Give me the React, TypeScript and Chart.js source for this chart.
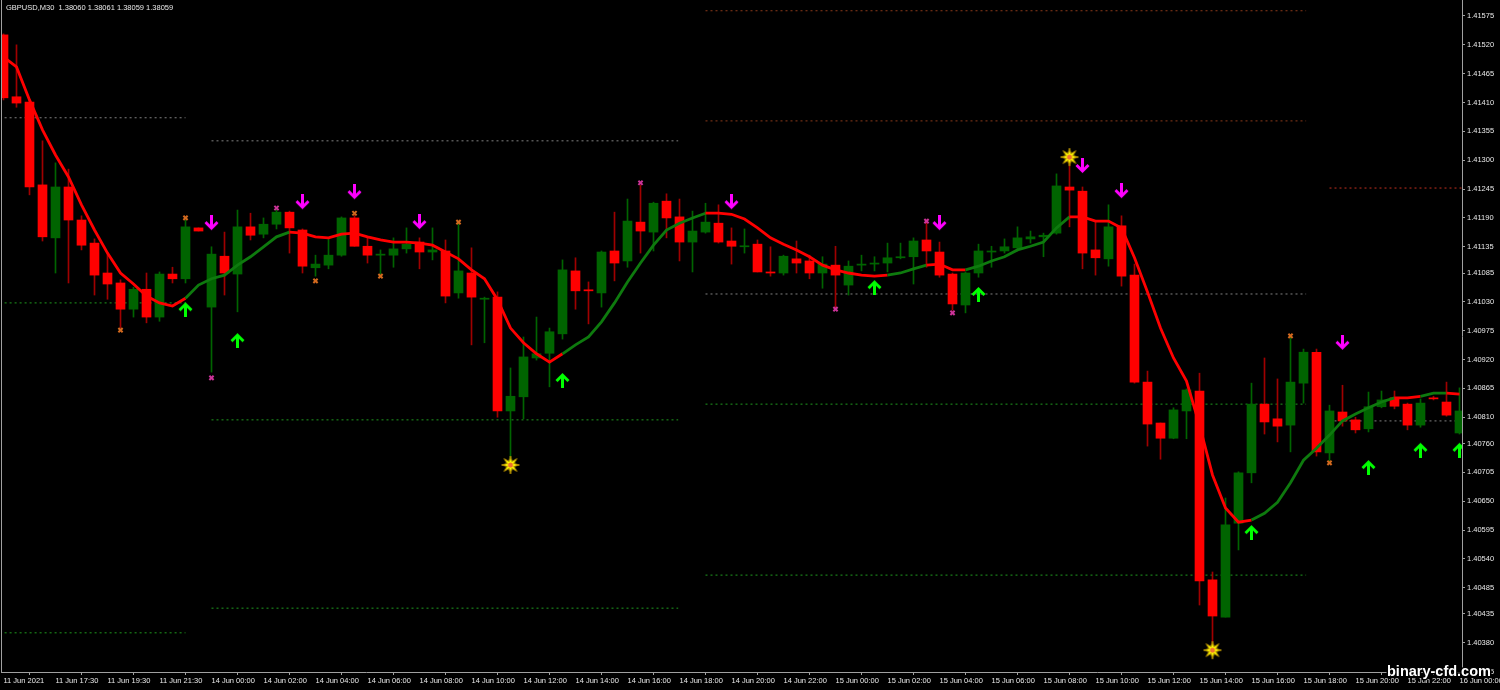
import React, { useEffect, useRef } from "react";
import { Chart, registerables } from "chart.js";

Chart.register(...registerables);

// ---- Data (GBPUSD M30) ----
const openPrices = [
  1.41539, 1.41421, 1.41411, 1.41253, 1.41152, 1.41249, 1.41186, 1.41142, 1.41085, 1.41066,
  1.41016, 1.41054, 1.41001, 1.41083, 1.41074, 1.41171, 1.41020, 1.41117, 1.41083, 1.41173,
  1.41159, 1.41178, 1.41201, 1.41167, 1.41095, 1.41100, 1.41119, 1.41190, 1.41136, 1.41119,
  1.41119, 1.41131, 1.41144, 1.41125, 1.41127, 1.41047, 1.41085, 1.41035, 1.41039, 1.40822,
  1.40849, 1.40923, 1.40932, 1.40969, 1.41089, 1.41053, 1.41047, 1.41127, 1.41108, 1.41182,
  1.41163, 1.41222, 1.41192, 1.41144, 1.41163, 1.41180, 1.41146, 1.41135, 1.41140, 1.41087,
  1.41085, 1.41112, 1.41108, 1.41085, 1.41100, 1.41062, 1.41100, 1.41102, 1.41104, 1.41114,
  1.41116, 1.41148, 1.41125, 1.41083, 1.41024, 1.41085, 1.41125, 1.41127, 1.41133, 1.41150,
  1.41154, 1.41161, 1.41249, 1.41241, 1.41129, 1.41112, 1.41175, 1.41081, 1.40877, 1.40799,
  1.40770, 1.40822, 1.40860, 1.40500, 1.40429, 1.40608, 1.40704, 1.40835, 1.40807, 1.40795,
  1.40875, 1.40934, 1.40742, 1.40820, 1.40805, 1.40788, 1.40830, 1.40847, 1.40835, 1.40795,
  1.40847, 1.40839, 1.40780,
];
const highPrices = [
  1.41541, 1.41520, 1.41413, 1.41337, 1.41295, 1.41283, 1.41194, 1.41150, 1.41123, 1.41072,
  1.41058, 1.41085, 1.41087, 1.41096, 1.41186, 1.41171, 1.41135, 1.41163, 1.41205, 1.41199,
  1.41190, 1.41209, 1.41203, 1.41169, 1.41119, 1.41150, 1.41192, 1.41196, 1.41152, 1.41129,
  1.41152, 1.41171, 1.41152, 1.41171, 1.41148, 1.41182, 1.41133, 1.41039, 1.41049, 1.40904,
  1.40963, 1.41001, 1.40980, 1.41110, 1.41114, 1.41068, 1.41127, 1.41201, 1.41226, 1.41253,
  1.41220, 1.41236, 1.41226, 1.41203, 1.41218, 1.41215, 1.41171, 1.41169, 1.41148, 1.41135,
  1.41119, 1.41146, 1.41119, 1.41116, 1.41136, 1.41108, 1.41119, 1.41116, 1.41142, 1.41142,
  1.41152, 1.41186, 1.41144, 1.41085, 1.41087, 1.41140, 1.41136, 1.41150, 1.41173, 1.41165,
  1.41161, 1.41274, 1.41306, 1.41249, 1.41182, 1.41215, 1.41194, 1.41102, 1.40898, 1.40799,
  1.40828, 1.40864, 1.40894, 1.40515, 1.40656, 1.40706, 1.40875, 1.40923, 1.40883, 1.40965,
  1.40940, 1.40940, 1.40833, 1.40871, 1.40810, 1.40858, 1.40860, 1.40860, 1.40837, 1.40845,
  1.40850, 1.40877, 1.40866,
];
const lowPrices = [
  1.41415, 1.41401, 1.41234, 1.41146, 1.41085, 1.41066, 1.41129, 1.41043, 1.41035, 1.40980,
  1.41001, 1.40990, 1.40993, 1.41066, 1.41066, 1.41165, 1.40896, 1.41043, 1.41011, 1.41148,
  1.41152, 1.41169, 1.41123, 1.41085, 1.41079, 1.41093, 1.41117, 1.41136, 1.41104, 1.41083,
  1.41096, 1.41123, 1.41093, 1.41110, 1.41028, 1.41037, 1.40948, 1.40952, 1.40810, 1.40725,
  1.40807, 1.40919, 1.40868, 1.40959, 1.41016, 1.40988, 1.41020, 1.41070, 1.41096, 1.41123,
  1.41127, 1.41152, 1.41108, 1.41087, 1.41161, 1.41142, 1.41102, 1.41123, 1.41087, 1.41079,
  1.41081, 1.41085, 1.41074, 1.41056, 1.41018, 1.41043, 1.41089, 1.41089, 1.41087, 1.41112,
  1.41064, 1.41096, 1.41077, 1.41014, 1.41009, 1.41077, 1.41096, 1.41123, 1.41127, 1.41142,
  1.41116, 1.41159, 1.41173, 1.41093, 1.41081, 1.41098, 1.41060, 1.40875, 1.40755, 1.40730,
  1.40769, 1.40769, 1.40452, 1.40376, 1.40429, 1.40557, 1.40685, 1.40778, 1.40763, 1.40744,
  1.40837, 1.40736, 1.40727, 1.40793, 1.40780, 1.40782, 1.40828, 1.40826, 1.40786, 1.40791,
  1.40843, 1.40812, 1.40778,
];
const closePrices = [
  1.41419, 1.41409, 1.41249, 1.41154, 1.41249, 1.41186, 1.41138, 1.41081, 1.41064, 1.41016,
  1.41054, 1.41001, 1.41083, 1.41074, 1.41173, 1.41165, 1.41121, 1.41085, 1.41173, 1.41157,
  1.41178, 1.41201, 1.41171, 1.41098, 1.41102, 1.41119, 1.41190, 1.41136, 1.41119, 1.41121,
  1.41131, 1.41140, 1.41125, 1.41129, 1.41041, 1.41089, 1.41039, 1.41037, 1.40822, 1.40850,
  1.40925, 1.40931, 1.40973, 1.41091, 1.41051, 1.41051, 1.41125, 1.41104, 1.41184, 1.41165,
  1.41218, 1.41190, 1.41144, 1.41165, 1.41182, 1.41144, 1.41136, 1.41136, 1.41087, 1.41085,
  1.41117, 1.41104, 1.41085, 1.41102, 1.41081, 1.41098, 1.41102, 1.41104, 1.41114, 1.41116,
  1.41146, 1.41127, 1.41081, 1.41026, 1.41085, 1.41127, 1.41127, 1.41135, 1.41152, 1.41154,
  1.41157, 1.41251, 1.41243, 1.41123, 1.41114, 1.41173, 1.41079, 1.40877, 1.40797, 1.40770,
  1.40824, 1.40862, 1.40498, 1.40431, 1.40605, 1.40704, 1.40835, 1.40801, 1.40793, 1.40877,
  1.40934, 1.40744, 1.40822, 1.40803, 1.40786, 1.40830, 1.40843, 1.40831, 1.40795, 1.40837,
  1.40845, 1.40814, 1.40822,
];
const maValues = [
  1.41497, 1.41478, 1.41415, 1.41358, 1.41310, 1.41268, 1.41215, 1.41167, 1.41123, 1.41085,
  1.41064, 1.41041, 1.41028, 1.41022, 1.41037, 1.41062, 1.41074, 1.41081, 1.41100, 1.41116,
  1.41135, 1.41154, 1.41163, 1.41161, 1.41154, 1.41152, 1.41159, 1.41161, 1.41154, 1.41148,
  1.41144, 1.41144, 1.41142, 1.41138, 1.41125, 1.41112, 1.41091, 1.41074, 1.41034, 1.40980,
  1.40952, 1.40931, 1.40915, 1.40931, 1.40948, 1.40963, 1.40992, 1.41028, 1.41068, 1.41104,
  1.41138, 1.41167, 1.41180, 1.41190, 1.41199, 1.41199, 1.41197, 1.41188, 1.41171, 1.41152,
  1.41140, 1.41129, 1.41116, 1.41100, 1.41091, 1.41085, 1.41081, 1.41079, 1.41081, 1.41085,
  1.41093, 1.41100, 1.41102, 1.41091, 1.41091, 1.41098, 1.41108, 1.41116, 1.41129, 1.41136,
  1.41144, 1.41171, 1.41192, 1.41192, 1.41184, 1.41184, 1.41171, 1.41114, 1.41049, 1.40980,
  1.40923, 1.40879, 1.40795, 1.40700, 1.40637, 1.40610, 1.40614, 1.40627, 1.40648, 1.40685,
  1.40728, 1.40751, 1.40776, 1.40803, 1.40816, 1.40828, 1.40839, 1.40847, 1.40847, 1.40850,
  1.40856, 1.40856, 1.40854,
];
// bar ranges where the trend line is drawn red (down trend)
const maRedRanges = [[0, 14], [22, 43], [54, 68], [71, 74], [82, 96], [107, 109], [111, 112]];

const timeLabels = [
  "11 Jun 2021", "11 Jun 17:30", "11 Jun 19:30", "11 Jun 21:30",
  "14 Jun 00:00", "14 Jun 02:00", "14 Jun 04:00", "14 Jun 06:00", "14 Jun 08:00", "14 Jun 10:00",
  "14 Jun 12:00", "14 Jun 14:00", "14 Jun 16:00", "14 Jun 18:00", "14 Jun 20:00", "14 Jun 22:00",
  "15 Jun 00:00", "15 Jun 02:00", "15 Jun 04:00", "15 Jun 06:00", "15 Jun 08:00", "15 Jun 10:00",
  "15 Jun 12:00", "15 Jun 14:00", "15 Jun 16:00", "15 Jun 18:00", "15 Jun 20:00", "15 Jun 22:00",
  "16 Jun 00:00",
];
const timeLabelBars = [0, 4, 8, 12, 16, 20, 24, 28, 32, 36, 40, 44, 48, 52, 56, 60, 64, 68, 72, 76, 80, 84, 88, 92, 96, 100, 104, 108, 112];

const priceTicks = [
  1.41575, 1.4152, 1.41465, 1.4141, 1.41355, 1.413, 1.41245, 1.4119, 1.41135, 1.41085, 1.4103, 1.40975,
  1.4092, 1.40865, 1.4081, 1.4076, 1.40705, 1.4065, 1.40595, 1.4054, 1.40485, 1.40435, 1.4038, 1.40325,
];

const upArrowBars = [14, 18, 43, 67, 75, 96, 105, 109, 112];
const upArrowPrices = [1.41016, 1.40957, 1.40881, 1.41058, 1.41045, 1.40591, 1.40715, 1.40748, 1.40748];
const downArrowBars = [16, 23, 27, 32, 56, 72, 83, 86, 103];
const downArrowPrices = [1.4118, 1.4122, 1.41239, 1.41182, 1.4122, 1.4118, 1.41289, 1.41241, 1.40952];
const orangeCrossBars = [9, 14, 24, 27, 29, 35, 99, 102];
const orangeCrossPrices = [1.40976, 1.4119, 1.4107, 1.41199, 1.41079, 1.41182, 1.40965, 1.40723];
const pinkCrossBars = [16, 21, 49, 64, 71, 73];
const pinkCrossPrices = [1.40885, 1.41209, 1.41257, 1.41016, 1.41184, 1.41009];
const starBars = [39, 82, 93];
const starPrices = [1.40719, 1.41306, 1.40366];

// daily levels
const levelStartBars = [-0.3, 16, 54, 102];
const levelEndBars = [14, 51.9, 100.2, 112.4];
const pivotLevels = [1.41381, 1.41337, 1.41045, 1.40803];
const supportLevels = [[1.41028, 1.40399], [1.40805, 1.40446], [1.40835, 1.40509], []];
const resistanceLevels = [[], [], [1.41585, 1.41375], [1.41247]];

const titleText = "GBPUSD,M30  1.38060 1.38061 1.38059 1.38059";
const watermarkText = "binary-cfd.com";

// ---- Styles ----
const BULL = "#006400";
const BEAR = "#ff0000";
const BEAR_WICK = "#a00000";
const MA_RED = "#ff0000";
const MA_GREEN = "#0e7a0e";
const AXIS = "#a0a0a0";
const TEXT = "#e8e8e8";
const FONT_FAMILY = '"Liberation Sans", Arial, sans-serif';
const X_MIN = -2.5 / 13;
const X_MAX = X_MIN + 1461 / 13;
const Y_MAX = 1.416055;
const Y_MIN = 1.403243;

function makeArrow(color: string, up: boolean) {
  const c = document.createElement("canvas");
  c.width = 15;
  c.height = 16;
  const g = c.getContext("2d")!;
  if (!up) {
    g.translate(0, 16);
    g.scale(1, -1);
  }
  g.strokeStyle = color;
  g.lineWidth = 3;
  g.lineCap = "butt";
  g.lineJoin = "miter";
  g.beginPath();
  g.moveTo(7.5, 16);
  g.lineTo(7.5, 3);
  g.stroke();
  g.beginPath();
  g.moveTo(1.5, 9);
  g.lineTo(7.5, 3);
  g.lineTo(13.5, 9);
  g.stroke();
  return c;
}

function makeStar() {
  const c = document.createElement("canvas");
  c.width = 20;
  c.height = 20;
  const g = c.getContext("2d")!;
  const cx = 10, cy = 10;
  g.beginPath();
  for (let k = 0; k < 16; k++) {
    const r = k % 2 === 0 ? 9 : 3.8;
    const a = (k * Math.PI) / 8 - Math.PI / 2;
    const px = cx + r * Math.cos(a);
    const py = cy + r * Math.sin(a);
    if (k === 0) g.moveTo(px, py);
    else g.lineTo(px, py);
  }
  g.closePath();
  g.fillStyle = "#ffff00";
  g.fill();
  g.strokeStyle = "#b08a00";
  g.lineWidth = 1;
  g.stroke();
  g.beginPath();
  g.arc(cx, cy, 2.6, 0, Math.PI * 2);
  g.fillStyle = "#f07030";
  g.fill();
  return c;
}

function isRedSegment(i0: number, i1: number) {
  return maRedRanges.some(([a, b]) => i0 >= a && i1 <= b);
}

const overlayPlugin = {
  id: "mtOverlay",
  afterDraw(chart: any) {
    const ctx = chart.ctx as CanvasRenderingContext2D;
    const area = chart.chartArea;
    ctx.save();
    ctx.strokeStyle = AXIS;
    ctx.lineWidth = 1;
    ctx.beginPath();
    ctx.moveTo(1.5, 0);
    ctx.lineTo(1.5, area.bottom);
    ctx.stroke();

    ctx.font = `7.5px ${FONT_FAMILY}`;
    ctx.fillStyle = TEXT;
    ctx.textBaseline = "middle";
    ctx.textAlign = "left";
    ctx.fillText(titleText, 6, 8);

    ctx.font = `bold 14.5px ${FONT_FAMILY}`;
    ctx.textBaseline = "alphabetic";
    ctx.lineJoin = "round";
    ctx.lineWidth = 3;
    ctx.strokeStyle = "#000000";
    ctx.strokeText(watermarkText, 1387, 676);
    ctx.fillStyle = "#ffffff";
    ctx.fillText(watermarkText, 1387, 676);
    ctx.restore();
  },
};

export default function App() {
  const ref = useRef<HTMLCanvasElement | null>(null);

  useEffect(() => {
    document.body.style.margin = "0";
    document.body.style.background = "#000";
    const canvas = ref.current!;

    const idx = openPrices.map((_, i) => i);
    const isBull = idx.map((i) => closePrices[i] > openPrices[i]);

    const upImg = makeArrow("#00ff00", true);
    const downImg = makeArrow("#ff00ff", false);
    const starImg = makeStar();

    const levelSets: any[] = [];
    const addLevel = (day: number, value: number, color: string) => {
      levelSets.push({
        type: "line",
        data: [
          { x: levelStartBars[day], y: value },
          { x: levelEndBars[day], y: value },
        ],
        borderColor: color,
        borderWidth: 1,
        borderDash: [2, 3],
        pointRadius: 0,
        order: 10,
      });
    };
    pivotLevels.forEach((v, d) => addLevel(d, v, "#808080"));
    supportLevels.forEach((arr, d) => arr.forEach((v) => addLevel(d, v, "#1f9a1f")));
    resistanceLevels.forEach((arr, d) =>
      arr.forEach((v) => addLevel(d, v, d === 3 ? "#c03020" : "#8b3a1a"))
    );

    const markerSet = (bars: number[], prices: number[], extra: any) => ({
      type: "line",
      showLine: false,
      data: bars.map((b, k) => ({ x: b, y: prices[k] })),
      order: 1,
      ...extra,
    });

    const chart = new Chart(canvas, {
      type: "bar",
      data: {
        datasets: [
          ...levelSets,
          {
            type: "bar",
            data: idx.map((i) => ({ x: i, y: [lowPrices[i], highPrices[i]] })),
            backgroundColor: idx.map((i) => (isBull[i] ? BULL : BEAR_WICK)),
            barThickness: 1,
            grouped: false,
            order: 6,
          },
          {
            type: "bar",
            data: idx.map((i) => ({ x: i, y: [openPrices[i], closePrices[i]] })),
            backgroundColor: idx.map((i) => (isBull[i] ? BULL : BEAR)),
            barThickness: 9,
            minBarLength: 1,
            grouped: false,
            order: 5,
          },
          {
            type: "line",
            data: maValues.map((v, i) => ({ x: i, y: v })),
            borderColor: MA_GREEN,
            borderWidth: 2.8,
            pointRadius: 0,
            tension: 0,
            segment: {
              borderColor: (ctx: any) => (isRedSegment(ctx.p0DataIndex, ctx.p1DataIndex) ? MA_RED : MA_GREEN),
            },
            order: 3,
          },
          markerSet(orangeCrossBars, orangeCrossPrices, {
            pointStyle: "crossRot",
            pointRadius: 3,
            borderColor: "#d2691e",
            pointBorderColor: "#d2691e",
            pointBorderWidth: 2,
          }),
          markerSet(pinkCrossBars, pinkCrossPrices, {
            pointStyle: "crossRot",
            pointRadius: 3,
            borderColor: "#cc3399",
            pointBorderColor: "#cc3399",
            pointBorderWidth: 2,
          }),
          markerSet(upArrowBars, upArrowPrices, { pointStyle: upImg, pointRadius: 6 }),
          markerSet(downArrowBars, downArrowPrices, { pointStyle: downImg, pointRadius: 6 }),
          markerSet(starBars, starPrices, { pointStyle: starImg, pointRadius: 8 }),
        ],
      },
      options: {
        responsive: false,
        animation: false,
        devicePixelRatio: 1,
        events: [],
        layout: { autoPadding: false, padding: { left: 1, top: 0, right: 0, bottom: 0 } },
        plugins: {
          legend: { display: false },
          tooltip: { enabled: false },
          title: { display: false },
        },
        scales: {
          x: {
            type: "linear",
            min: X_MIN,
            max: X_MAX,
            offset: false,
            grid: { drawOnChartArea: false, drawTicks: true, tickLength: 3, color: AXIS },
            border: { display: true, color: AXIS, width: 1 },
            ticks: {
              autoSkip: false,
              maxRotation: 0,
              minRotation: 0,
              align: "start",
              padding: 1,
              color: TEXT,
              font: { family: FONT_FAMILY, size: 7.5 },
              callback: (value: any) => {
                const k = timeLabelBars.indexOf(Number(value));
                return k >= 0 ? timeLabels[k] : "";
              },
            },
            afterBuildTicks: (scale: any) => {
              scale.ticks = timeLabelBars.map((v) => ({ value: v }));
            },
            afterFit: (scale: any) => {
              scale.height = 18;
              scale.paddingLeft = 0;
              scale.paddingRight = 0;
            },
          },
          y: {
            type: "linear",
            position: "right",
            min: Y_MIN,
            max: Y_MAX,
            grid: { drawOnChartArea: false, drawTicks: true, tickLength: 3, color: AXIS },
            border: { display: true, color: AXIS, width: 1 },
            ticks: {
              padding: 2,
              color: TEXT,
              font: { family: FONT_FAMILY, size: 7.5 },
              callback: (value: any) => Number(value).toFixed(5),
            },
            afterBuildTicks: (scale: any) => {
              scale.ticks = priceTicks.map((v) => ({ value: v }));
            },
            afterFit: (scale: any) => {
              scale.width = 38;
              scale.paddingTop = 0;
              scale.paddingBottom = 0;
            },
          },
        },
      } as any,
      plugins: [overlayPlugin],
    } as any);

    return () => chart.destroy();
  }, []);

  return (
    <div style={{ width: 1500, height: 690, background: "#000", overflow: "hidden" }}>
      <canvas ref={ref} width={1500} height={690} style={{ display: "block", width: 1500, height: 690 }} />
    </div>
  );
}
